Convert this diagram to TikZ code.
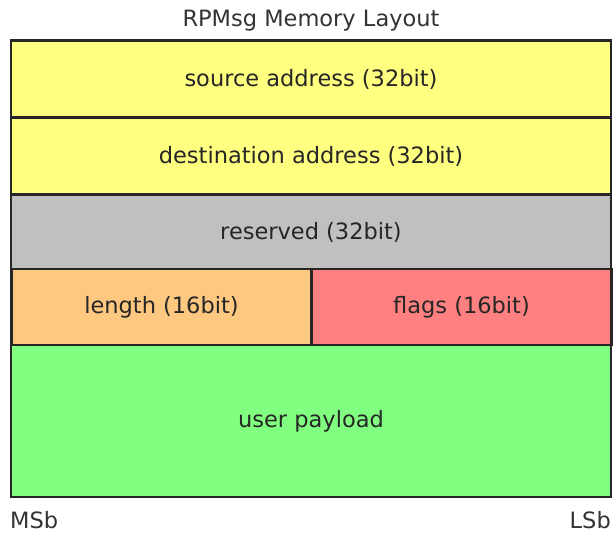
\documentclass[tikz,border=0pt]{standalone}
\usepackage{fontspec}
\setmainfont{DejaVu Sans}
\begin{document}
\begin{tikzpicture}[
    x=1pt, y=-1pt,
    field/.style={rectangle, draw=black!85, line width=2.5pt, inner sep=0pt,
                  minimum width=600pt, minimum height=77pt, text=black!85,
                  font=\fontsize{22.5}{26}\selectfont},
    half/.style={field, minimum width=300pt},
    caption/.style={text=black!80, inner sep=0pt, font=\fontsize{22.5}{26}\selectfont}
]
    \useasboundingbox (0,0) rectangle (616,533);

    % Title
    \node[caption] (title) at (311,21) {RPMsg Memory Layout};

    % Header words
    \node[field, fill={rgb,255:red,255;green,255;blue,128}] (src) at (311,79) {source address (32bit)};
    \node[field, fill={rgb,255:red,255;green,255;blue,128}] (dst) at (311,156) {destination address (32bit)};
    \node[field, fill={rgb,255:red,192;green,192;blue,192}, minimum height=75pt] (rsvd) at (311,232) {reserved (32bit)};
    \node[half, fill={rgb,255:red,255;green,200;blue,128}, minimum height=76pt] (len) at (161.5,307) {length (16bit)};
    \node[half, fill={rgb,255:red,255;green,128;blue,128}, minimum height=76pt] (flags) at (461.5,307) {flags (16bit)};

    % Payload
    \node[field, fill={rgb,255:red,128;green,255;blue,128}, minimum height=152pt] (payload) at (311,421) {user payload};

    % Bit order
    \node[caption, anchor=base west] (msb) at (10,528) {MSb};
    \node[caption, anchor=base east] (lsb) at (611,528) {LSb};
\end{tikzpicture}
\end{document}
